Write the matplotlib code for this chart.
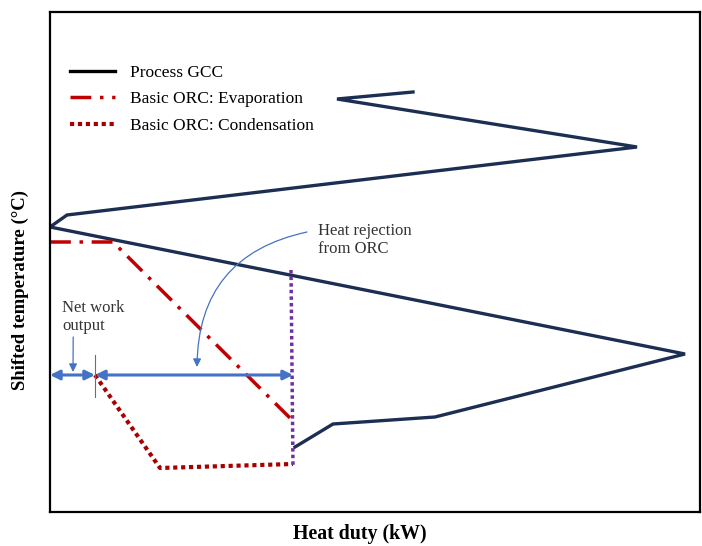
import matplotlib
matplotlib.use("Agg")
import matplotlib.pyplot as plt
from matplotlib.lines import Line2D

plt.rcParams['font.family'] = ['Liberation Serif', 'DejaVu Serif']

# --- Data (heat duty / shifted temperature, arbitrary units) ---
gcc_q = [363, 287, 587, 17, 0, 635, 385, 283, 245]
gcc_t = [420, 413, 365, 297, 285, 158, 95, 88, 65]

evap_q = [0, 63, 240]
evap_t = [270, 270, 94]

cond_q = [45, 110, 243]
cond_t = [137, 44, 48]

reject_q = [241, 243]
reject_t = [242, 45]

work_q = [0, 45]        # net work output span
reject_span_q = [45, 243]
arrow_t = 137

NAVY = '#1c2e52'
RED = '#c00000'
DARKRED = '#a80000'
PURPLE = '#7030a0'
BLUE = '#4472c4'

fig = plt.figure(figsize=(7.02, 5.46), dpi=100)
ax = fig.add_axes([50 / 702, 34 / 546, 650 / 702, 500 / 546])

ax.plot(gcc_q, gcc_t, color=NAVY, lw=2.4, solid_joinstyle='miter')
ax.plot(evap_q, evap_t, color=RED, lw=2.5, linestyle=(0, (6, 2.5, 1, 2.5)))
ax.plot(cond_q, cond_t, color=DARKRED, lw=3.0, linestyle=(0, (1, 0.9)))
ax.plot(reject_q, reject_t, color=PURPLE, lw=2.5, linestyle=(0, (1, 0.9)))

# double arrows for net work / heat rejection
for span in (work_q, reject_span_q):
    ax.annotate('', xy=(span[1], arrow_t), xytext=(span[0], arrow_t),
                arrowprops=dict(arrowstyle='<|-|>', color=BLUE, lw=2.2,
                                mutation_scale=14, shrinkA=0, shrinkB=0))
ax.plot([45, 45], [115, 157], color=BLUE, lw=0.8)

ax.annotate('Net work\noutput', xy=(23, 140), xytext=(12, 195),
            fontsize=12, color='#333333', va='center', ha='left',
            arrowprops=dict(arrowstyle='-|>', color=BLUE, lw=0.9,
                            mutation_scale=12, shrinkA=0, shrinkB=0,
                            relpos=(0.18, 0)))

ax.text(268, 272, 'Heat rejection\nfrom ORC', fontsize=12, color='#333333',
        va='center', ha='left')
ax.annotate('', xy=(147, 145), xytext=(257, 280),
            arrowprops=dict(arrowstyle='-|>', color=BLUE, lw=0.9,
                            mutation_scale=12, shrinkA=0, shrinkB=0,
                            connectionstyle='arc3,rad=0.4'))

handles = [
    Line2D([], [], color='black', lw=2.4),
    Line2D([], [], color=RED, lw=2.5, linestyle=(0, (6, 2.5, 1, 2.5))),
    Line2D([], [], color=DARKRED, lw=3.0, linestyle=(0, (1, 0.9))),
]
labels = ['Process GCC', 'Basic ORC: Evaporation', 'Basic ORC: Condensation']
ax.legend(handles, labels, loc='upper left', bbox_to_anchor=(0.031, 0.895),
          frameon=False, fontsize=12.5, handlelength=2.6, handletextpad=0.85,
          labelspacing=0.6, borderpad=0, borderaxespad=0)

ax.set_xlim(0, 650)
ax.set_ylim(0, 500)
ax.set_xticks([])
ax.set_yticks([])
for s in ax.spines.values():
    s.set_linewidth(1.6)
    s.set_color('black')

ax.set_xlabel('Heat duty (kW)', fontsize=14.3, fontweight='bold')
ax.xaxis.set_label_coords(0.477, -0.023)
ax.set_ylabel('Shifted temperature (\u00b0C)', fontsize=13.5, fontweight='bold')
ax.yaxis.set_label_coords(-0.032, 0.444)

fig.savefig('out.png', dpi=100)
